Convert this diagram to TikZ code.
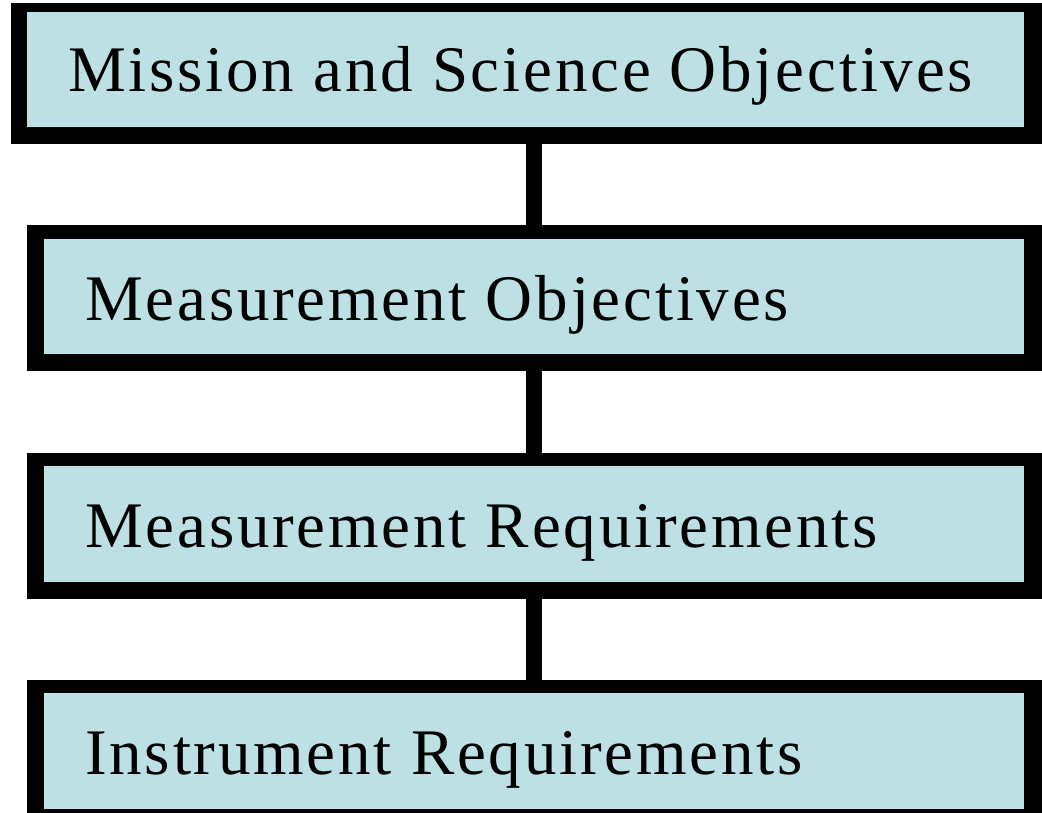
\documentclass[tikz,border=0pt]{standalone}
\usepackage{fontspec}
\setmainfont{Liberation Serif}[LetterSpace=4.3]
\definecolor{boxfill}{RGB}{188,224,227}
\begin{document}
\begin{tikzpicture}[x=1pt,y=-1pt,
  outerbox/.style={fill=black, draw=none, inner sep=0pt, anchor=north west},
  innerbox/.style={fill=boxfill, draw=none, inner sep=0pt, anchor=north west},
  label/.style={anchor=base west, inner sep=0pt, font=\fontsize{65}{78}\selectfont},
  conn/.style={line width=16pt, draw=black}]
\useasboundingbox (0,0) rectangle (1042,813);
\clip (0,0) rectangle (1042,813);
% outer frames
\node[outerbox, minimum width=1031pt, minimum height=141pt] (b1) at (11,3) {};
\node[outerbox, minimum width=1015pt, minimum height=146pt] (b2) at (27,225) {};
\node[outerbox, minimum width=1015pt, minimum height=146pt] (b3) at (27,453) {};
\node[outerbox, minimum width=1015pt, minimum height=140pt] (b4) at (27,680) {};
% inner fills
\node[innerbox, minimum width=997pt, minimum height=115pt] (i1) at (27,12) {};
\node[innerbox, minimum width=980pt, minimum height=115pt] (i2) at (44,239) {};
\node[innerbox, minimum width=980pt, minimum height=116pt] (i3) at (44,466) {};
\node[innerbox, minimum width=980pt, minimum height=116pt] (i4) at (44,693) {};
% texts
\node[label] (t1) at (68,92) {Mission and Science Objectives};
\node[label] (t2) at (85,320) {Measurement Objectives};
\node[label] (t3) at (85,547) {Measurement Requirements};
\node[label] (t4) at (85,774) {Instrument Requirements};
% connectors
\coordinate (cx) at (534,0);
\draw[conn] (b1.south -| cx) -- (b2.north -| cx);
\draw[conn] (b2.south -| cx) -- (b3.north -| cx);
\draw[conn] (b3.south -| cx) -- (b4.north -| cx);
\end{tikzpicture}
\end{document}
